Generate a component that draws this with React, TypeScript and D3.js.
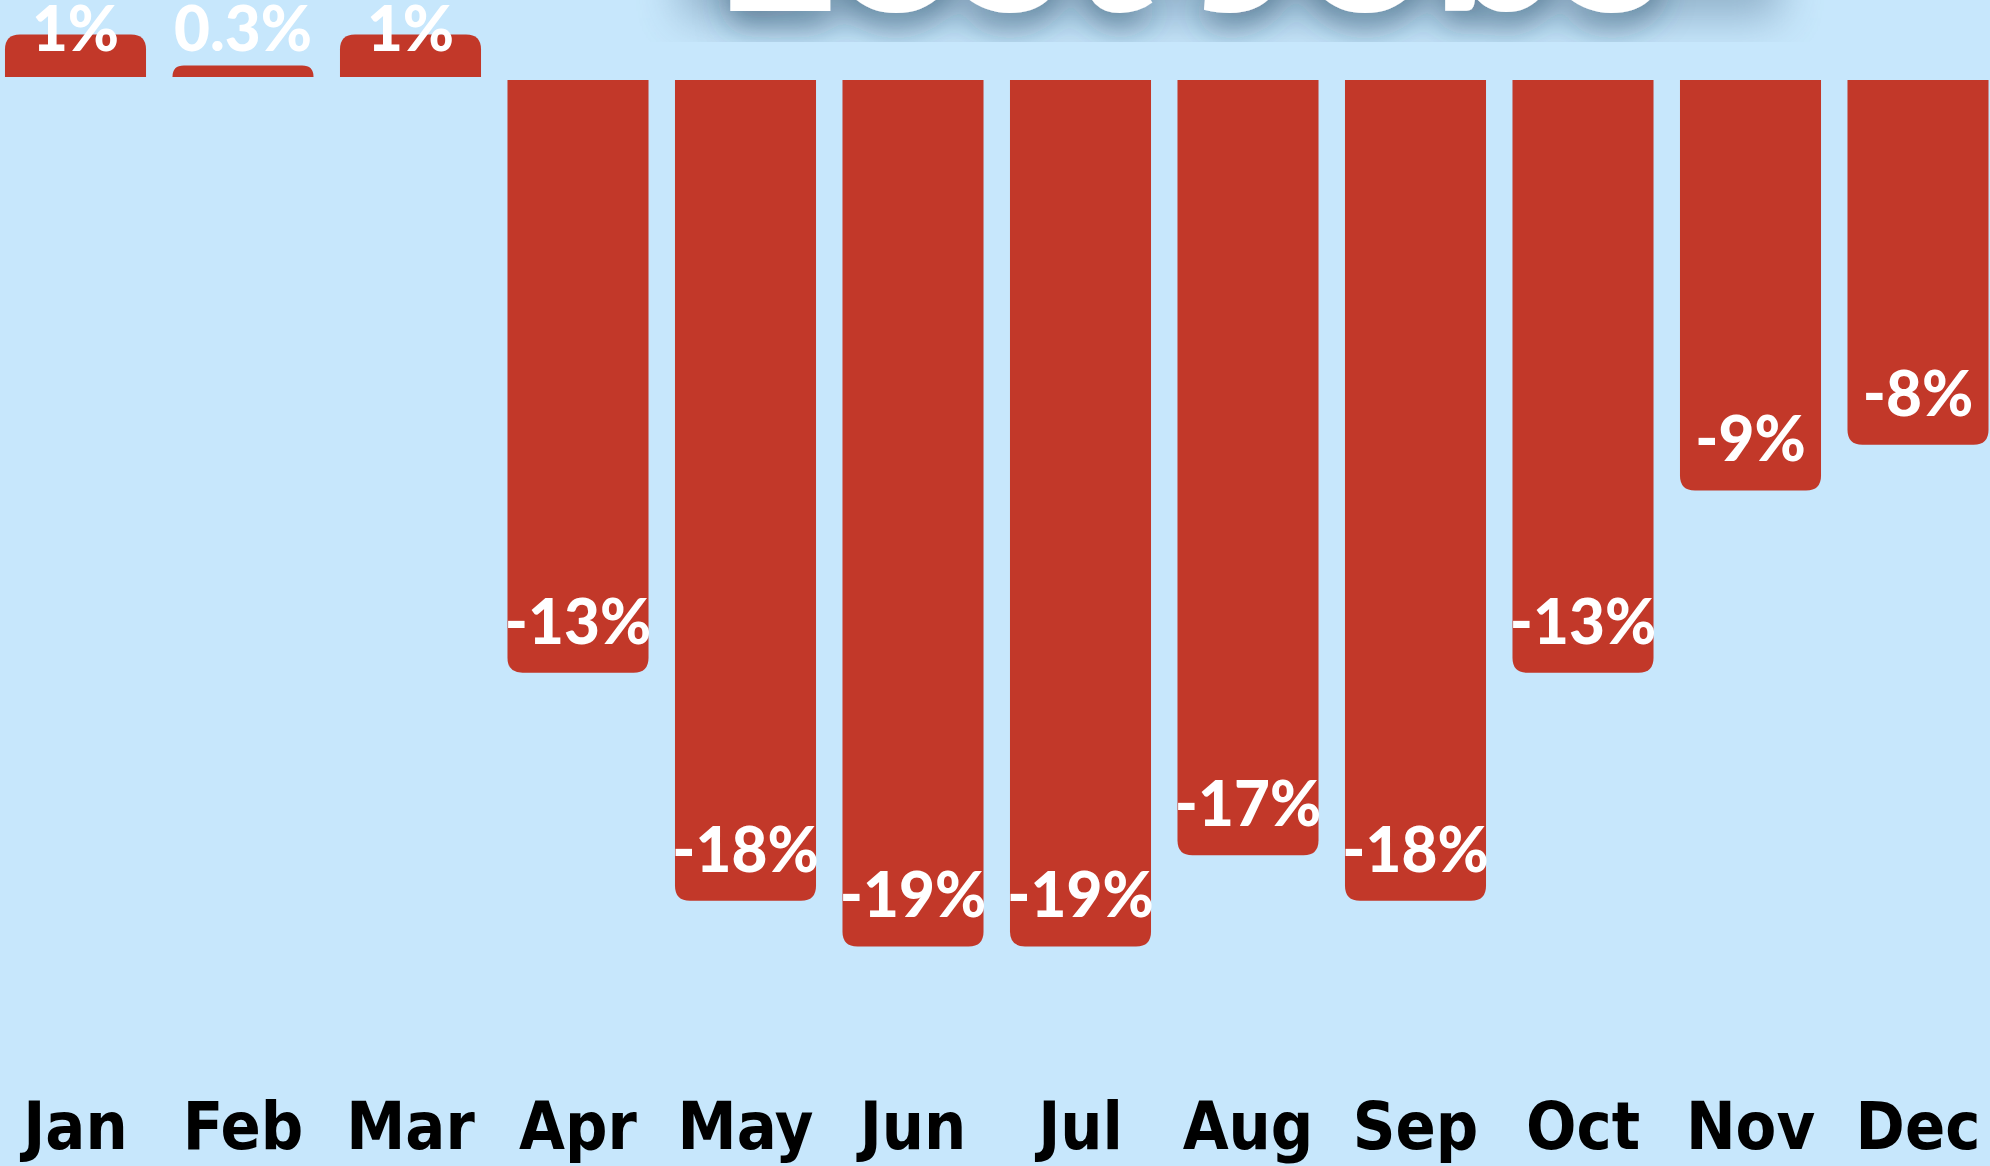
import React from "react";
import * as d3 from "d3";

const months = ["Jan", "Feb", "Mar", "Apr", "May", "Jun", "Jul", "Aug", "Sep", "Oct", "Nov", "Dec"];
const values = [0.93, 0.25, 0.93, -13, -18, -19, -19, -17, -18, -13, -9, -8];
const valueLabels = ["1%", "0.3%", "1%", "-13%", "-18%", "-19%", "-19%", "-17%", "-18%", "-13%", "-9%", "-8%"];
const titleText = "Lost Jobs";

const W = 1990;
const H = 1166;
const BG = "#c7e7fc";
const BAR = "#c23829";

function barPath(x: number, w: number, yBase: number, yEnd: number, r0: number) {
  const h = Math.abs(yEnd - yBase);
  const r = Math.min(r0, h, w / 2);
  const p = d3.path();
  if (yEnd > yBase) {
    p.moveTo(x, yBase);
    p.lineTo(x + w, yBase);
    p.lineTo(x + w, yEnd - r);
    p.quadraticCurveTo(x + w, yEnd, x + w - r, yEnd);
    p.lineTo(x + r, yEnd);
    p.quadraticCurveTo(x, yEnd, x, yEnd - r);
    p.closePath();
  } else {
    p.moveTo(x, yBase);
    p.lineTo(x, yEnd + r);
    p.quadraticCurveTo(x, yEnd, x + r, yEnd);
    p.lineTo(x + w - r, yEnd);
    p.quadraticCurveTo(x + w, yEnd, x + w, yEnd + r);
    p.lineTo(x + w, yBase);
    p.closePath();
  }
  return p.toString();
}

export default function App() {
  const x = d3
    .scaleBand<string>()
    .domain(months)
    .range([-8.25, 2001.75])
    .paddingInner(0.158)
    .paddingOuter(0.079);
  const y = d3.scaleLinear().domain([0, -19]).range([78.5, 78.5 + 19 * 45.6]);
  const gap = 1.5;
  const bw = x.bandwidth();

  return (
    <div style={{ position: "absolute", left: 0, top: 0, width: W, height: H, overflow: "hidden" }}>
      <svg width={W} height={H} style={{ display: "block" }}>
        <defs>
          <filter id="tshadow" filterUnits="userSpaceOnUse" x={560} y={-400} width={1360} height={442}>
            <feGaussianBlur in="SourceAlpha" stdDeviation={16} result="b" />
            <feOffset in="b" dx={0} dy={14} result="o" />
            <feFlood floodColor="#23445f" floodOpacity={0.55} />
            <feComposite in2="o" operator="in" result="s" />
            <feMerge>
              <feMergeNode in="s" />
              <feMergeNode in="SourceGraphic" />
            </feMerge>
          </filter>
          <filter id="boxshadow" filterUnits="userSpaceOnUse" x={560} y={-400} width={1360} height={442}>
            <feGaussianBlur stdDeviation={22} />
          </filter>
        </defs>
        <rect x={0} y={0} width={W} height={H} fill={BG} />

        <rect x={680} y={-300} width={1100} height={318} fill="#4f6f8c" opacity={0.45} filter="url(#boxshadow)" />
        <text
          x={1190}
          y={11}
          textAnchor="middle"
          fontFamily="Lato, 'Open Sans', sans-serif"
          fontWeight={900}
          fontSize={232}
          fill="#ffffff"
          filter="url(#tshadow)"
        >
          {titleText}
        </text>

        {values.map((v, i) => {
          const bx = x(months[i]) as number;
          const y0 = y(0);
          const yBase = v >= 0 ? y0 - gap : y0 + gap;
          const yEnd = v >= 0 ? y(v) - gap : y(v) + gap;
          return <path key={"b" + i} d={barPath(bx, bw, yBase, yEnd, 15)} fill={BAR} />;
        })}

        {values.map((v, i) => {
          const cx = (x(months[i]) as number) + bw / 2;
          const y0 = y(0);
          const baseline = v >= 0 ? y0 - 27.5 : y(v) + gap - 29;
          return (
            <text
              key={"l" + i}
              x={cx}
              y={baseline}
              textAnchor="middle"
              fontFamily="Lato, 'Open Sans', sans-serif"
              fontWeight={900}
              fontSize={62}
              fill="#ffffff"
            >
              {valueLabels[i]}
            </text>
          );
        })}

        {months.map((m) => (
          <text
            key={"m" + m}
            x={(x(m) as number) + bw / 2}
            y={1149}
            textAnchor="middle"
            fontFamily="'DejaVu Sans Condensed', 'DejaVu Sans', sans-serif"
            fontStretch="condensed"
            fontWeight={700}
            fontSize={66}
            fill="#000000"
          >
            {m}
          </text>
        ))}
      </svg>
    </div>
  );
}
